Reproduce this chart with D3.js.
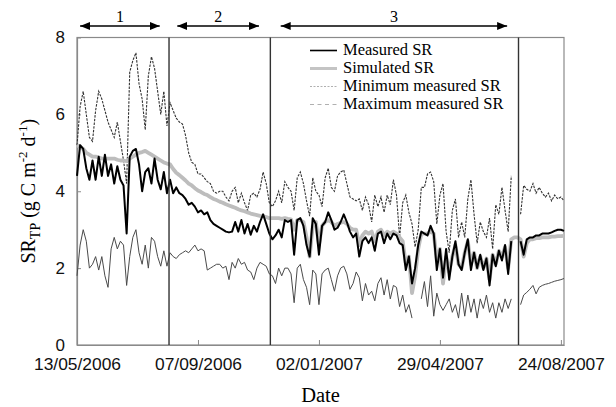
<!DOCTYPE html>
<html>
<head>
<meta charset="utf-8">
<script src="https://cdn.jsdelivr.net/npm/d3@7"></script>
<style>
  html, body { margin: 0; padding: 0; background: #fff; }
  svg { display: block; }
</style>
</head>
<body>
<svg id="chart" width="616" height="407"></svg>
<script>
// ---------- DATA ----------
const startDate = "2006-05-13";   // first daily value
const stepDays = 3;               // values read every 3 days
const endDate = "2007-08-27";

const measuredSR = [
  4.4,5.2,5.1,4.6,4.3,4.8,4.3,4.9,4.4,4.95,4.4,4.7,4.2,4.65,4.3,4.15,2.9,4.9,5.05,5.1,4.7,4.0,4.5,4.6,4.2,4.85,4.3,4.05,4.5,3.95,4.3,
  3.95,4.1,3.95,3.9,3.8,3.65,3.7,3.6,3.45,3.5,3.4,3.45,3.25,3.15,3.1,3.05,3.0,2.95,2.93,2.95,3.2,2.95,3.25,2.9,3.15,2.87,3.1,2.95,3.2,3.4,3.15,2.9,
  2.75,2.85,3.0,2.8,3.25,3.2,3.25,2.35,3.25,3.3,
  3.1,2.6,2.3,3.3,3.15,2.35,3.1,3.2,3.45,3.25,
  3.0,3.05,3.2,3.4,3.2,2.95,2.8,2.9,2.3,2.7,
  2.8,2.65,2.8,2.45,2.9,2.95,2.65,2.9,2.75,2.9,
  2.85,2.65,2.6,1.95,2.3,1.6,2.0,2.6,2.95,2.9,
  2.85,3.1,2.9,1.95,2.5,1.75,2.5,1.7,2.3,2.7,
  2.1,1.95,2.4,2.75,1.95,2.4,2.0,2.35,1.95,2.25,
  1.55,2.35,2.05,2.45,2.2,2.6,1.85,2.7,null,null,
  2.7,2.35,2.75,2.8,2.8,2.85,2.85,2.9,2.9,2.9,
  2.93,2.97,3.0,3.0,2.97
];

const simulatedSR = [
  5.2,5.15,5.1,5.0,4.95,4.9,4.9,4.88,4.85,4.85,4.85,4.85,4.85,4.82,4.8,4.8,4.78,4.85,4.9,4.95,5.0,5.02,5.05,5.0,4.95,4.9,4.85,4.8,4.75,4.72,4.7,
  4.58,4.48,4.42,4.35,4.28,4.2,4.15,4.08,4.02,3.98,3.93,3.9,3.85,3.8,3.77,3.73,3.7,3.66,3.63,3.6,3.57,3.53,3.5,3.48,3.45,3.42,3.4,3.38,3.36,3.35,3.33,3.3,
  3.3,3.3,3.3,3.28,3.3,3.28,3.27,3.0,3.25,3.25,
  3.2,2.8,2.3,3.1,3.2,2.6,3.1,3.2,3.25,3.2,
  3.1,3.15,3.18,3.2,3.15,3.05,3.0,3.0,2.6,2.85,
  2.95,2.9,2.95,2.7,2.95,3.0,2.85,2.95,2.9,2.95,
  2.9,2.8,2.7,2.1,2.3,1.35,1.8,2.5,2.9,2.9,
  2.9,2.95,2.9,2.2,2.5,1.6,2.3,1.9,2.3,2.6,
  2.1,2.0,2.4,2.7,2.1,2.4,2.0,2.3,2.0,2.25,
  1.7,2.35,2.1,2.45,2.3,2.55,2.0,2.75,2.8,2.8,
  2.75,2.3,2.65,2.75,2.75,2.78,2.78,2.8,2.8,2.8,
  2.82,2.82,2.83,2.83,2.84
];

const maxMeasuredSR = [
  5.2,6.2,6.6,6.0,5.4,5.3,6.1,6.6,6.4,6.1,5.8,5.6,5.4,5.8,5.3,4.8,4.2,7.1,7.4,7.6,6.8,6.4,5.6,7.0,7.5,7.2,6.6,6.0,6.6,5.7,6.3,
  6.1,5.9,5.8,5.75,5.45,5.0,4.75,4.7,4.45,4.45,4.35,4.25,4.2,4.0,3.95,4.0,4.0,3.85,3.75,4.0,4.1,3.7,3.95,3.7,3.5,3.9,3.95,3.85,4.05,4.5,4.2,3.7,
  3.6,3.75,4.0,3.7,4.25,4.1,4.0,3.5,4.35,4.5,
  4.2,3.75,3.35,4.35,4.0,3.9,3.6,4.35,4.6,4.1,
  4.0,4.4,4.5,4.55,4.2,3.85,3.8,3.75,3.8,3.5,
  3.85,3.65,3.2,3.9,3.6,3.85,3.45,3.9,3.65,4.3,
  3.9,2.8,3.7,3.9,3.45,3.15,2.55,3.0,4.1,4.1,
  4.45,4.5,4.25,3.15,3.9,4.2,2.95,2.4,3.5,3.8,
  2.8,3.2,2.8,3.8,4.3,3.4,2.65,3.2,2.95,2.8,
  3.3,2.5,3.65,3.4,4.1,3.5,2.95,4.4,null,null,
  3.4,4.15,4.05,4.0,4.2,3.95,4.1,3.95,3.85,3.95,
  3.75,3.9,3.8,3.85,3.75
];

const minMeasuredSR = [
  1.8,2.6,3.0,2.7,2.0,2.1,2.3,1.95,2.3,1.8,1.5,2.5,2.8,2.5,2.7,2.6,1.55,2.3,2.8,3.0,2.4,2.1,2.6,2.0,2.8,2.7,2.3,2.05,2.45,2.05,2.4,
  2.3,2.25,2.35,2.4,2.45,2.4,2.5,2.6,2.45,2.5,2.45,1.95,2.0,2.05,2.1,2.1,2.0,2.05,1.7,2.15,2.0,2.25,2.1,2.15,1.95,1.9,1.7,2.0,2.15,2.1,2.05,1.85,
  1.8,1.6,2.0,1.8,2.0,2.0,1.85,1.1,2.0,2.1,
  1.7,1.5,1.05,1.95,1.85,1.05,1.85,1.95,2.0,1.7,
  1.4,1.8,2.0,2.05,1.85,1.45,1.6,1.9,1.75,1.15,
  1.6,1.3,1.4,1.15,1.6,1.75,1.3,1.7,1.2,1.55,
  1.5,1.0,1.3,0.85,1.05,0.7,null,null,1.2,1.65,
  1.0,1.8,0.75,1.35,1.05,0.9,1.05,1.2,0.85,1.05,
  0.7,1.35,0.75,1.3,0.85,1.2,0.7,1.2,0.95,1.3,
  0.85,1.1,0.7,1.1,0.85,1.2,0.95,1.2,null,null,
  1.05,1.3,1.37,1.45,1.55,1.33,1.5,1.55,1.58,1.6,
  1.63,1.66,1.68,1.7,1.73
];

const xTickDates  = ["2006-05-13","2006-09-07","2007-01-02","2007-04-29","2007-08-24"];
const xTickLabels = ["13/05/2006","07/09/2006","02/01/2007","29/04/2007","24/08/2007"];
const yTicks = [0, 2, 4, 6, 8];

const boundaryDates = ["2006-08-10","2006-11-16","2007-07-14"];
const periodLabels = ["1","2","3"];
const periodArrowStart = ["2006-05-16","2006-08-18","2006-11-26"];
const periodArrowEnd   = ["2006-08-01","2006-11-05","2007-07-03"];

const legendLabels = ["Measured SR","Simulated SR","Minimum measured SR","Maximum measured SR"];

// ---------- CHART ----------
const parse = d3.utcParse("%Y-%m-%d");
const t0 = parse(startDate);
const dateAt = i => d3.utcDay.offset(t0, i * stepDays);

const L = 77, R = 564, T = 37.5, B = 345;
const svg = d3.select("#chart");

const x = d3.scaleUtc().domain([t0, parse(endDate)]).range([L, R]);
const y = d3.scaleLinear().domain([0, 8]).range([B, T]);

const serif = "'Liberation Serif','Times New Roman',Times,serif";
const sans = "'Liberation Sans',Arial,Helvetica,sans-serif";

// frame
svg.append("rect").attr("x", L).attr("y", T).attr("width", R - L).attr("height", B - T)
  .attr("fill", "none").attr("stroke", "#8a8a8a").attr("stroke-width", 1.2);

// axes
const xAxis = d3.axisBottom(x)
  .tickValues(xTickDates.map(parse))
  .tickFormat((d, i) => xTickLabels[i])
  .tickSizeInner(-5).tickSizeOuter(0).tickPadding(0);
const gx = svg.append("g").attr("transform", `translate(0,${B})`).call(xAxis);
gx.select(".domain").attr("stroke", "#8a8a8a").attr("stroke-width", 1.2);
gx.selectAll(".tick line").attr("stroke", "#8a8a8a");
gx.selectAll(".tick text")
  .attr("y", 25).attr("dy", 0)
  .attr("font-family", sans).attr("font-size", 16.5).attr("fill", "#111")
  .attr("textLength", 87).attr("lengthAdjust", "spacingAndGlyphs");

const yAxis = d3.axisLeft(y).tickValues(yTicks).tickSizeInner(-4).tickSizeOuter(0).tickPadding(12);
const gy = svg.append("g").attr("transform", `translate(${L},0)`).call(yAxis);
gy.select(".domain").attr("stroke", "#8a8a8a").attr("stroke-width", 1.2);
gy.selectAll(".tick line").attr("stroke", "#8a8a8a");
gy.selectAll(".tick text").attr("font-family", sans).attr("font-size", 17).attr("fill", "#111");

// lines
const mk = arr => arr.map((v, i) => ({ d: dateAt(i), v }));
const line = d3.line().defined(p => p.v !== null).x(p => x(p.d)).y(p => y(p.v));

svg.append("path").datum(mk(minMeasuredSR)).attr("d", line)
  .attr("fill", "none").attr("stroke", "#4a4a4a").attr("stroke-width", 1);
svg.append("path").datum(mk(maxMeasuredSR)).attr("d", line)
  .attr("fill", "none").attr("stroke", "#333").attr("stroke-width", 1.1)
  .attr("stroke-dasharray", "2.5,1.2");
svg.append("path").datum(mk(simulatedSR)).attr("d", line)
  .attr("fill", "none").attr("stroke", "#bdbdbd").attr("stroke-width", 3.8)
  .attr("stroke-linejoin", "round");
svg.append("path").datum(mk(measuredSR)).attr("d", line)
  .attr("fill", "none").attr("stroke", "#000").attr("stroke-width", 2)
  .attr("stroke-linejoin", "round");

// period boundaries
svg.selectAll("line.bound").data(boundaryDates).enter().append("line")
  .attr("x1", d => x(parse(d))).attr("x2", d => x(parse(d)))
  .attr("y1", T).attr("y2", B)
  .attr("stroke", "#333").attr("stroke-width", 1.4);

// period arrows
const defs = svg.append("defs");
["s", "e"].forEach(k => {
  defs.append("marker").attr("id", "arr" + k)
    .attr("viewBox", "0 0 10 8").attr("refX", k === "e" ? 10 : 0).attr("refY", 4)
    .attr("markerWidth", 10).attr("markerHeight", 8).attr("markerUnits", "userSpaceOnUse")
    .attr("orient", "auto")
    .append("path").attr("d", k === "e" ? "M0,0 L10,4 L0,8 Z" : "M10,0 L0,4 L10,8 Z").attr("fill", "#000");
});
periodLabels.forEach((lab, i) => {
  const x1 = x(parse(periodArrowStart[i])), x2 = x(parse(periodArrowEnd[i]));
  svg.append("line").attr("x1", x1).attr("x2", x2).attr("y1", 26).attr("y2", 26)
    .attr("stroke", "#000").attr("stroke-width", 1.3)
    .attr("marker-start", "url(#arrs)").attr("marker-end", "url(#arre)");
  svg.append("text").attr("x", (x1 + x2) / 2).attr("y", 22)
    .attr("text-anchor", "middle").attr("font-family", serif).attr("font-size", 16)
    .text(lab);
});

// legend
const legStyles = [
  { stroke: "#000", w: 1.6, dash: null },
  { stroke: "#c4c4c4", w: 3, dash: null },
  { stroke: "#b0b0b0", w: 1, dash: "2,1.5" },
  { stroke: "#b0b0b0", w: 1, dash: "4,3.5" }
];
legendLabels.forEach((lab, i) => {
  const by = 55 + i * 18;
  const st = legStyles[i];
  svg.append("line").attr("x1", 310).attr("x2", 337).attr("y1", by - 4.5).attr("y2", by - 4.5)
    .attr("stroke", st.stroke).attr("stroke-width", st.w)
    .attr("stroke-dasharray", st.dash);
  svg.append("text").attr("x", 343).attr("y", by)
    .attr("font-family", serif).attr("font-size", 16.5).text(lab);
});

// axis titles
svg.append("text").attr("x", (L + R) / 2).attr("y", 402)
  .attr("text-anchor", "middle").attr("font-family", serif).attr("font-size", 20.5).text("Date");

const yt = svg.append("text")
  .attr("transform", `translate(35,${(T + B) / 2}) rotate(-90)`)
  .attr("text-anchor", "middle").attr("font-family", serif).attr("font-size", 20);
yt.append("tspan").text("SR");
yt.append("tspan").attr("font-size", 14).attr("dy", 5).text("TP");
yt.append("tspan").attr("dy", -5).text(" (g C m");
yt.append("tspan").attr("font-size", 13).attr("dy", -8).text("-2");
yt.append("tspan").attr("dy", 8).text(" d");
yt.append("tspan").attr("font-size", 13).attr("dy", -8).text("-1");
yt.append("tspan").attr("dy", 8).text(")");
</script>
</body>
</html>
